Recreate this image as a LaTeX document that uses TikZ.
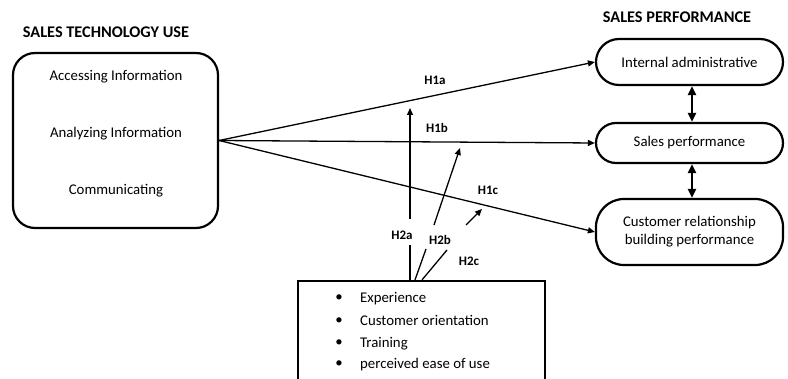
\documentclass[tikz,border=0pt]{standalone}
\usepackage{fontspec}
\setmainfont{Carlito}
\usetikzlibrary{arrows.meta}
\tikzset{
  caixa/.style={draw, line width=2.2pt},
  pilula/.style={caixa, minimum width=187pt, align=center},
  rotulo/.style={font=\fontsize{13}{15}\selectfont\bfseries, inner sep=1pt},
  titulo/.style={font=\fontsize{16.3}{18}\selectfont\bfseries},
  item/.style={anchor=base west, inner sep=0pt},
  liga/.style={->, line width=1.3pt},
  duplo/.style={<->, line width=2pt, >={Triangle[length=9pt,width=8pt]}}
}
\begin{document}
\begin{tikzpicture}[x=1pt, y=-1pt, font=\fontsize{14.8}{18}\selectfont, >={Triangle[length=7pt,width=6pt]}]
    \useasboundingbox (0,0) rectangle (788,379); % margens
    \clip (0,0) rectangle (788,379);
    \node[titulo] (titulouso) at (106,32) {SALES TECHNOLOGY USE}; % titulo esquerdo
    \node[titulo] (tituloperf) at (677,17) {SALES PERFORMANCE}; % titulo direito
    \node[caixa, rounded corners=22pt, minimum width=205pt, minimum height=175pt] (uso) at (115.5,140.5) {}; % caixa esquerda
    \node (acesso) at (116,77) {Accessing Information};
    \node (analise) at (116,134) {Analyzing Information};
    \node (comunica) at (116,191) {Communicating};
    \node[pilula, rounded corners=23pt, minimum height=46pt] (adm) at (689.5,62) {Internal administrative}; % desempenho 1
    \node[pilula, rounded corners=20pt, minimum height=40pt] (vendas) at (689.5,143) {Sales performance}; % desempenho 2
    \node[pilula, rounded corners=28pt, minimum height=66pt] (cliente) at (689.5,232) {Customer relationship\\building performance}; % desempenho 3
    \node[caixa, minimum width=247pt, minimum height=110pt] (moderadores) at (421.5,336) {}; % caixa de baixo
    \foreach \y/\texto [count=\i] in {303/Experience, 326/Customer orientation, 348/Training, 369/perceived ease of use}
        \node[item] (item\i) at (360,\y) {\texto};
    \foreach \y [count=\i] in {298,321,343,364}
        \node (ponto\i) at (339,\y) {\textbullet};
    \draw[liga] (uso.east) -- (adm.west); % H1a
    \draw[liga] (uso.east) -- (vendas.west); % H1b
    \draw[liga] (uso.east) -- (cliente.west); % H1c
    \draw[duplo] ([xshift=2.5pt]adm.south) -- ([xshift=2.5pt]vendas.north);
    \draw[duplo] ([xshift=2.5pt]vendas.south) -- ([xshift=2.5pt]cliente.north);
    \coordinate (a1) at (410,245); \coordinate (a2) at (410,219); \coordinate (a3) at (410,108);
    \coordinate (b1) at (426,249); \coordinate (b2) at (434,225); \coordinate (b3) at (460,148);
    \coordinate (c1) at (447,250); \coordinate (c2) at (466,225); \coordinate (c3) at (482,209);
    \draw[line width=1.3pt] ([xshift=-11.5pt]moderadores.north) -- (a1); % H2a
    \draw[liga] (a2) -- (a3);
    \draw[line width=1.3pt] ([xshift=-6.5pt]moderadores.north) -- (b1); % H2b
    \draw[liga] (b2) -- (b3);
    \draw[line width=1.3pt] ([xshift=0.5pt]moderadores.north) -- (c1); % H2c
    \draw[liga] (c2) -- (c3);
    \node[rotulo] (h1a) at (435,80) {H1a};
    \node[rotulo] (h1b) at (437,128) {H1b};
    \node[rotulo] (h1c) at (488,190) {H1c};
    \node[rotulo] (h2a) at (402,235) {H2a};
    \node[rotulo] (h2b) at (440,240) {H2b};
    \node[rotulo] (h2c) at (469,261) {H2c};
\end{tikzpicture}
\end{document}
